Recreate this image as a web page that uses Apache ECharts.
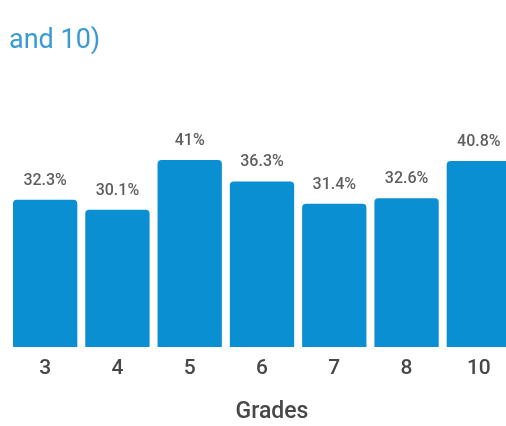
<!DOCTYPE html>
<html>
<head>
<meta charset="utf-8">
<script src="https://cdn.jsdelivr.net/npm/echarts@6/dist/echarts.min.js"></script>
<style>
  html, body { margin: 0; padding: 0; background: #ffffff; }
  #chart { width: 506px; height: 426px; }
</style>
</head>
<body>
<div id="chart"></div>
<script>
// grades shown on the x axis
const grades = ["3", "4", "5", "6", "7", "8", "10"];
// share per grade, in percent
const shares = [32.3, 30.1, 41, 36.3, 31.4, 32.6, 40.8];

const chart = echarts.init(document.getElementById("chart"));
chart.setOption({
  animation: false,
  title: {
    text: "and 10)",
    left: 4,
    top: 23,
    textStyle: {
      color: "#3a9ad6",
      fontSize: 27,
      fontWeight: "normal",
      fontFamily: "Roboto"
    }
  },
  grid: {
    left: 9,
    top: 119,
    width: 506,
    height: 228,
    containLabel: false,
    outerBoundsMode: "none"
  },
  xAxis: {
    type: "category",
    data: grades,
    name: "Grades",
    nameLocation: "middle",
    nameGap: 54,
    nameTextStyle: {
      color: "#474747",
      fontSize: 23,
      fontWeight: 500,
      fontFamily: "Roboto",
      padding: [0, 0, 0, 20]
    },
    axisLine: { show: false },
    axisTick: { show: false },
    axisLabel: {
      color: "#474747",
      fontSize: 21,
      fontWeight: 500,
      fontFamily: "Roboto",
      margin: 11
    }
  },
  yAxis: {
    type: "value",
    min: 0,
    max: 50,
    show: false
  },
  series: [{
    type: "bar",
    data: shares,
    barCategoryGap: "11%",
    itemStyle: {
      color: "#0a8fd3",
      borderRadius: [4, 4, 0, 0]
    },
    label: {
      show: true,
      position: "top",
      distance: 11,
      color: "#5e5e5e",
      fontSize: 16,
      fontWeight: 500,
      fontFamily: "Roboto",
      formatter: function (p) { return p.value + "%"; }
    }
  }]
});
</script>
</body>
</html>
